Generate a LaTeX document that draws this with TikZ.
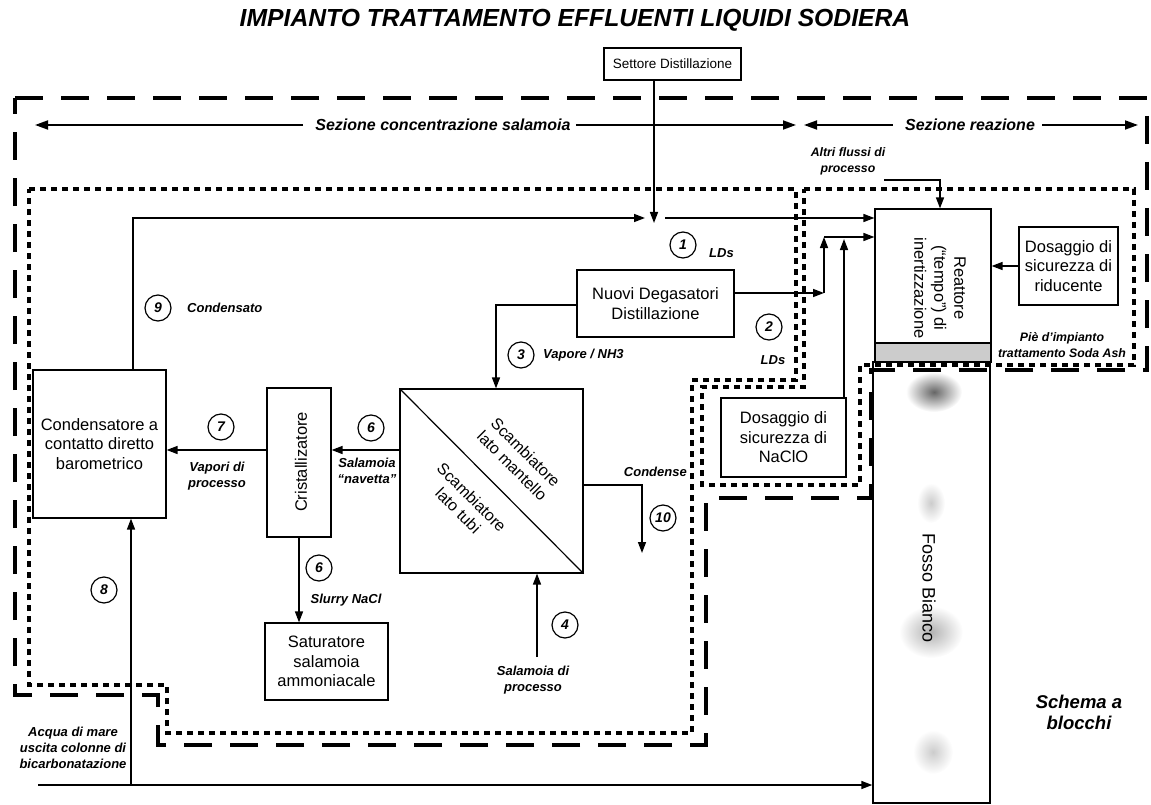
\documentclass[tikz,border=0pt]{standalone}
\usepackage{fontspec}
\setmainfont{Liberation Sans}
\usetikzlibrary{arrows.meta,calc}
\begin{document}
\begin{tikzpicture}[x=1pt,y=-1pt,
  box/.style={draw, line width=1.2pt, align=center, inner sep=0pt,
    font=\fontsize{16.5}{19.5}\selectfont},
  plain/.style={align=center, inner sep=0pt, font=\fontsize{16.5}{20}\selectfont},
  lbl/.style={align=center, inner sep=0pt, font=\fontsize{13}{16}\selectfont\bfseries\itshape},
  slbl/.style={align=center, inner sep=0pt, font=\fontsize{12.3}{16}\selectfont\bfseries\itshape},
  sec/.style={inner sep=0pt, font=\fontsize{16}{18}\selectfont\bfseries\itshape},
  num/.style={circle, draw, line width=1.2pt, minimum size=26pt, inner sep=0pt,
    font=\fontsize{14}{14}\selectfont\bfseries\itshape},
  flow/.style={line width=1.5pt, -{Triangle[length=11pt,width=8pt]}},
  secflow/.style={line width=1.8pt, -{Triangle[length=13pt,width=9pt]}},
  longdash/.style={line width=3.5pt, dash pattern=on 28pt off 18pt},
  shortdash/.style={line width=3.5pt, dash pattern=on 6pt off 5pt},
]
\useasboundingbox (0,0) rectangle (1151,805);

% title
\node[inner sep=0pt, font=\fontsize{24.7}{28}\selectfont\bfseries\itshape] (title) at (575,20) {IMPIANTO TRATTAMENTO EFFLUENTI LIQUIDI SODIERA};

% section boundaries
\draw[longdash] (15,98) -- (1147,98) -- (1147,370) -- (871,370) -- (871,498) -- (706,498) -- (706,745) -- (158,745) -- (158,695) -- (15,695) -- cycle;
\draw[shortdash] (29,189) -- (796,189) -- (796,380) -- (692,380) -- (692,733) -- (167,733) -- (167,685) -- (29,685) -- cycle;
\draw[shortdash] (804,189) -- (1134,189) -- (1134,365) -- (860,365) -- (860,485) -- (702,485) -- (702,387) -- (804,387) -- cycle;

% section arrows
\node[sec] (secc) at (443,125) {Sezione concentrazione salamoia};
\node[sec] (secr) at (970,125) {Sezione reazione};
\coordinate (sc1) at (35,125);
\coordinate (sc2) at (796,125);
\coordinate (sr1) at (804,125);
\coordinate (sr2) at (1138,125);
\draw[secflow] ([xshift=-12pt]secc.west) -- (sc1);
\draw[secflow] ([xshift=5pt]secc.east) -- (sc2);
\draw[secflow] ([xshift=-12pt]secr.west) -- (sr1);
\draw[secflow] ([xshift=7pt]secr.east) -- (sr2);

% blocks
\node[box, font=\fontsize{13.5}{16}\selectfont, minimum width=137pt, minimum height=32pt] (sett) at (672.5,64) {Settore Distillazione};
\node[box, minimum width=157pt, minimum height=67pt] (nuovi) at (655.5,303.5) {Nuovi Degasatori\\Distillazione};
\node[box, minimum width=183pt, minimum height=184pt] (scamb) at (491.5,481) {};
\node[box, minimum width=64pt, minimum height=149pt] (crist) at (299,462.5) {};
\node[box, minimum width=133pt, minimum height=148pt] (cond) at (99.5,444) {Condensatore a\\contatto diretto\\barometrico};
\node[box, minimum width=123pt, minimum height=77pt] (satur) at (326.5,661.5) {Saturatore\\salamoia\\ammoniacale};
\node[box, minimum width=125pt, minimum height=79pt] (naclo) at (783.5,437.5) {Dosaggio di\\sicurezza di\\NaClO};
\node[box, minimum width=116pt, minimum height=134pt] (reatt) at (933,276) {};
\node[box, minimum width=99pt, minimum height=78pt] (rid) at (1068.5,266) {Dosaggio di\\sicurezza di\\riducente};
\draw[line width=1.2pt, fill=black!20] (875,343) rectangle (991,362);

% Fosso Bianco
\node[draw, line width=1.4pt, minimum width=117pt, minimum height=441pt, inner sep=0pt] (fosso) at (931.5,582.5) {};
\shade[inner color=black!60, outer color=white] (934,392) ellipse (28 and 20);
\shade[inner color=black!20, outer color=white] (931,503) ellipse (14 and 20);
\shade[inner color=black!30, outer color=white] (931,632) ellipse (32 and 26);
\shade[inner color=black!20, outer color=white] (933,752) ellipse (20 and 22);
\node[plain, font=\fontsize{18}{20}\selectfont, rotate=-90] (fossot) at (929,588) {Fosso Bianco};

% rotated texts in blocks
\node[plain, rotate=-90] (reattt) at (940,288) {Reattore\\(“tempo”) di\\inertizzazione};
\node[plain, rotate=90] (cristt) at (301,462) {Cristallizatore};
\draw[line width=1.2pt] (scamb.north west) -- (scamb.south east);
\node[plain, font=\fontsize{16}{19}\selectfont, rotate=-45] (scm) at (519,459) {Scambiatore\\lato mantello};
\node[plain, font=\fontsize{16}{19}\selectfont, rotate=-45] (sct) at (465,504) {Scambiatore\\lato tubi};

% helper coordinates
\coordinate (p9) at (133,218);
\coordinate (j9) at (645,218);
\coordinate (s1) at (665,218);
\coordinate (d1) at (654,223);
\coordinate (k2) at (824,293);
\coordinate (k2t) at (824,237);
\coordinate (nc) at (844,239);
\coordinate (k3) at (496,305);
\coordinate (y450) at (0,450);
\coordinate (kc) at (642,485);
\coordinate (kct) at (642,553);
\coordinate (s4) at (537,657);
\coordinate (aq) at (38,785);
\coordinate (s8) at (131,785);
\coordinate (af) at (884,180);
\coordinate (af2) at (940,180);

% connectors
\draw[flow] (sett.south -| d1) -- (d1);
\draw[flow] (p9 |- cond.north) -- (p9) -- (j9);
\draw[flow] (s1) -- (s1 -| reatt.west);
\draw[flow] ([yshift=10.5pt]nuovi.east) -- (k2);
\draw[flow] (k2) -- (k2t);
\draw[flow] (k2t) -- (k2t -| reatt.west);
\draw[flow] (naclo.north -| nc) -- (nc);
\draw[flow] ([yshift=-1.5pt]nuovi.west) -- (k3) -- (k3 |- scamb.north);
\draw[flow] (scamb.west |- y450) -- (crist.east |- y450);
\draw[flow] (crist.west |- y450) -- (cond.east |- y450);
\draw[flow] (crist.south) -- (crist.south |- satur.north);
\draw[flow] (scamb.east |- kc) -- (kc) -- (kct);
\draw[flow] (s4) -- (s4 |- scamb.south);
\draw[flow] (aq) -- (aq -| fosso.west);
\draw[flow] (s8) -- (s8 |- cond.south);
\draw[flow] (af) -- (af2) -- (af2 |- reatt.north);
\draw[flow] (rid.west) -- (rid.west -| reatt.east);

% numbered circles and labels
\node[num] (n9) at (158,308) {9};
\node[lbl, anchor=west] (l9) at (187,308) {Condensato};
\node[num] (n1) at (683,245) {1};
\node[lbl, anchor=west] (l1) at (709,253) {LDs};
\node[num] (n2) at (769,327) {2};
\node[lbl] (l2) at (773,360) {LDs};
\node[num] (n3) at (521,355) {3};
\node[lbl, anchor=west] (l3) at (543,355) {Vapore / NH3};
\node[num] (n7) at (221,427) {7};
\node[lbl] (l7) at (217,476) {Vapori di\\processo};
\node[num] (n6) at (371,428) {6};
\node[lbl] (l6) at (367,471) {Salamoia\\“navetta”};
\node[num] (n6b) at (319,568) {6};
\node[lbl] (l6b) at (346,600) {Slurry NaCl};
\node[num] (n8) at (104,590) {8};
\node[num] (n4) at (565,625) {4};
\node[lbl] (l4) at (533,680) {Salamoia di\\processo};
\node[num] (n10) at (663,518) {10};
\node[lbl, anchor=east] (l10) at (687,472) {Condense};
\node[slbl] (laf) at (848,161) {Altri flussi di\\processo};
\node[slbl] (lpie) at (1062,345) {Piè d'impianto\\trattamento Soda Ash};
\node[lbl] (lacq) at (73,748) {Acqua di mare\\uscita colonne di\\bicarbonatazione};
\node[lbl, font=\fontsize{18.5}{21}\selectfont\bfseries\itshape] (lsch) at (1079,712) {Schema a\\blocchi};
\end{tikzpicture}
\end{document}
